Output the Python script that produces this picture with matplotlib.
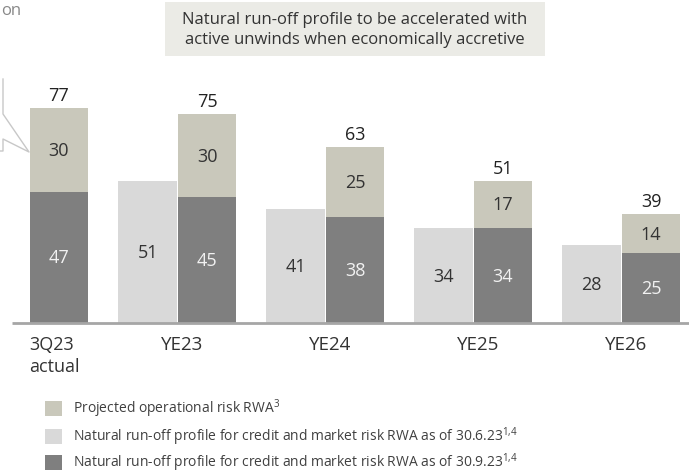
import matplotlib
matplotlib.use("Agg")
import matplotlib.pyplot as plt
from matplotlib.patches import Rectangle
from matplotlib.lines import Line2D
import numpy as np

plt.rcParams['font.family'] = ['Open Sans', 'DejaVu Sans']
plt.rcParams['mathtext.fontset'] = 'custom'
plt.rcParams['mathtext.rm'] = 'Open Sans'

# data (RWA, USD bn)
periods = ['3Q23\nactual', 'YE23', 'YE24', 'YE25', 'YE26']
run_off_jun = [None, 51, 41, 34, 28]      # as of 30.6.23
run_off_sep = [47, 45, 38, 34, 25]        # as of 30.9.23
op_risk = [30, 30, 25, 17, 14]
totals = [77, 75, 63, 51, 39]

legend_labels = ['Projected operational risk RWA$^{\\mathdefault{3}}$',
                 'Natural run-off profile for credit and market risk RWA as of 30.6.23$^{\\mathdefault{1,\\!4}}$',
                 'Natural run-off profile for credit and market risk RWA as of 30.9.23$^{\\mathdefault{1,\\!4}}$']

c_tan = '#c9c8bb'
c_light = '#d9d9d9'
c_dark = '#7f7f7f'
c_text = '#333333'

W, H = 689, 477
fig = plt.figure(figsize=(W / 100, H / 100), dpi=100)
ax = fig.add_axes([0, 0, 1, 1])

# px mapping: group pitch 148 px, 2.79 px per unit, baseline at 324 px
pitch = 148.0
ppu = 2.79
x0 = 59.0
base = 324.0
ax.set_xlim((0 - x0) / pitch, (W - x0) / pitch)
ax.set_ylim(-(H - base) / ppu, base / ppu)
ax.axis('off')

x = np.arange(len(periods))
bw = 0.397
off = 0.4

# light bars (30.6.23)
xl = [xi - off for xi, v in zip(x, run_off_jun) if v is not None]
vl = [v for v in run_off_jun if v is not None]
ax.bar(xl, vl, width=bw, color=c_light)
ax.bar(x, run_off_sep, width=bw, color=c_dark)
ax.bar(x, op_risk, width=bw, bottom=run_off_sep, color=c_tan)

fs_num = 13
for xi, v in zip(xl, vl):
    ax.text(xi, v / 2, str(v), ha='center', va='center', fontsize=fs_num, color=c_text)
for xi, v in zip(x, run_off_sep):
    ax.text(xi, v / 2, str(v), ha='center', va='center', fontsize=fs_num, color='#f2f2f2')
for xi, b, v in zip(x, run_off_sep, op_risk):
    ax.text(xi, b + v / 2, str(v), ha='center', va='center', fontsize=fs_num, color=c_text)
for xi, t in zip(x, totals):
    ax.text(xi, t + 4.6, str(t), ha='center', va='center', fontsize=fs_num, color='#222222')

# baseline
ax.plot([(12 - x0) / pitch, (W - x0) / pitch], [0, 0], color='#a6a6a6', lw=2, solid_capstyle='butt')

# period labels
for i, lab in enumerate(periods):
    if i == 0:
        ax.text(x[i] - bw / 2 - 0.005, -4.3, lab, ha='left', va='top', fontsize=13, color=c_text, linespacing=1.3)
    else:
        ax.text(x[i] - 0.17, -4.3, lab, ha='center', va='top', fontsize=13.5, color=c_text)

# title box
fig.patches.append(Rectangle((165 / W, 1 - 57 / H), 380 / W, 54 / H, transform=fig.transFigure,
                             facecolor='#ebebe6', edgecolor='none'))
fig.text(355 / W, 1 - 30 / H, 'Natural run-off profile to be accelerated with\nactive unwinds when economically accretive',
         ha='center', va='center', fontsize=12, color=c_text, linespacing=1.25)

# cut-off callout at the left
fig.text(1 / W, 1 - 15 / H, 'on', ha='left', va='baseline', fontsize=12, color='#888888')
px = [3, 3, 29, 3, 3, 0]
py = [80, 115, 153, 140, 152, 152]
fig.add_artist(Line2D([p / W for p in px], [1 - p / H for p in py], transform=fig.transFigure,
                      color='#c8c8c8', lw=1))

# legend
leg_y = [409, 437, 463]
for lab, col, yy in zip(legend_labels, [c_tan, c_light, c_dark], leg_y):
    fig.patches.append(Rectangle((45 / W, 1 - (yy + 7.5) / H), 17 / W, 15 / H, transform=fig.transFigure,
                                 facecolor=col, edgecolor='none'))
    fig.text(73 / W, 1 - yy / H, lab, ha='left', va='center', fontsize=10, color='#404040')

fig.savefig('out.png', dpi=100)
